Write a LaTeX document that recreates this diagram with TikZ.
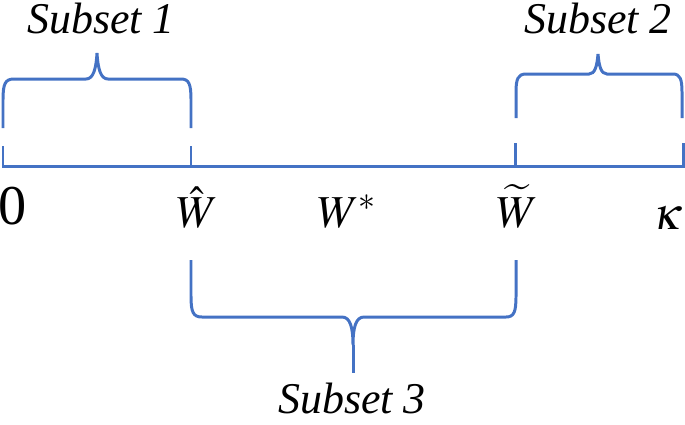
\documentclass[tikz,border=0pt]{standalone}
\usepackage{mathptmx}
\usepackage{fontspec}
\setmainfont{Liberation Serif}
\definecolor{braceblue}{RGB}{68,114,196}
\begin{document}
\begin{tikzpicture}[x=0.02cm,y=-0.02cm]

        \useasboundingbox (0,0) rectangle (685,424);

        \begin{scope}[every node/.style={inner sep=0pt,font=\fontsize{25}{30}\selectfont\itshape}]
          \node (s1) at (101,19)  {Subset 1};
          \node (s2) at (598,19)  {Subset 2};
          \node (s3) at (352,399) {Subset 3};
        \end{scope}

        \begin{scope}[every node/.style={inner sep=0pt,anchor=base,font=\fontsize{26}{30}\selectfont}]
          \node (zero)  at (13,224)  {\fontsize{32}{36}\selectfont 0};
          \node (what)  at (197,227) {$\hat{W}$};
          \node (wstar) at (347,227) {$W^{*}$};
          \node (wtil)  at (517,227) {$\widetilde{W}$};
          \node (kap)   at (668,229) {$\kappa$};
        \end{scope}

        \begin{scope}[draw=braceblue,line width=1.7pt]
          % axis with ticks
          \draw (3,146) -- (3,166) -- (683,166) -- (683,143);
          \draw (191,146) -- (191,166);
          \draw (515,143) -- (515,166);

          % subset 1
          \draw (3,128) -- (3,100) .. controls (3,84) and (5,79) .. (14,79)
                -- (86,79) .. controls (93,79) and (96,70) .. (97,53)
                .. controls (98,70) and (101,79) .. (108,79)
                -- (181,79) .. controls (189,79) and (191,84) .. (191,100)
                -- (191,128);

          % subset 2
          \draw (516,118) -- (516,92) .. controls (516,79) and (518,74) .. (526,74)
                -- (589,74) .. controls (595,74) and (597,66) .. (598,54)
                .. controls (599,66) and (601,74) .. (607,74)
                -- (673,74) .. controls (680,74) and (682,79) .. (682,92)
                -- (682,118);

          % subset 3
          \draw (191,260) -- (191,296) .. controls (191,312) and (193,317) .. (202,317)
                -- (342,317) .. controls (350,317) and (353,327) .. (353,345)
                .. controls (353,327) and (356,317) .. (364,317)
                -- (506,317) .. controls (514,317) and (516,312) .. (516,296)
                -- (516,260);
          \draw (353,345) -- (353,373);
        \end{scope}

      \end{tikzpicture}
\end{document}
